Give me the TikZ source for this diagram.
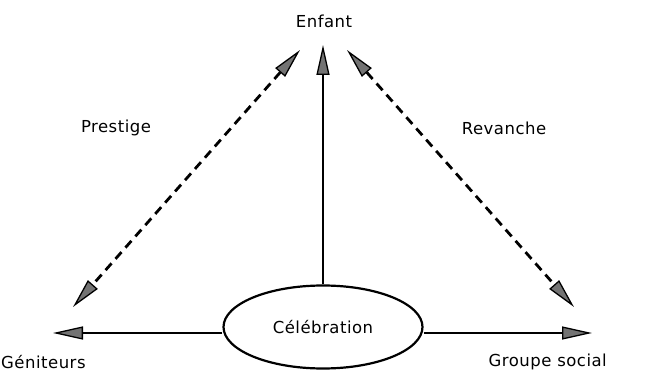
\documentclass[tikz,border=0pt]{standalone}
\usepackage{fontspec}
\setmainfont{DejaVu Sans}[LetterSpace=3]
\usetikzlibrary{arrows.meta,shapes.geometric}
\tikzset{
  lbl/.style={font=\fontsize{16.5}{18}\selectfont, inner sep=0pt},
  tip/.style={-{Triangle[length=30pt,width=13pt,fill=black!55,line width=1.3pt]}},
  dtip/.style={{Triangle[length=30pt,width=13pt,fill=black!55,line width=1.3pt]}-{Triangle[length=30pt,width=13pt,fill=black!55,line width=1.3pt]}},
  solidline/.style={line width=2pt, tip},
  dashline/.style={line width=2.8pt, dash pattern=on 9pt off 6pt, dtip},
  oval/.style={ellipse, draw, line width=2.2pt, minimum width=199pt, minimum height=83pt, inner sep=0pt, font=\fontsize{16.5}{18}\selectfont}
}
\begin{document}
\begin{tikzpicture}[x=1pt,y=-1pt]
\useasboundingbox (0,0) rectangle (660,371);
\node[lbl] (enf) at (324,21) {Enfant};
\node[lbl] (pre) at (116,128) {Prestige};
\node[lbl] (rev) at (504,128) {Revanche};
\node[lbl, anchor=west] (gen) at (1,362) {Géniteurs};
\node[lbl, anchor=east] (grp) at (607,362) {Groupe social};
\node[oval] (cel) at (323,327) {Célébration};
\coordinate (etip) at (323,45);
\coordinate (gtip) at (53,333);
\coordinate (stip) at (592,333);
\coordinate (ltop) at (300,50);
\coordinate (lbot) at (73,307);
\coordinate (rtop) at (347,50);
\coordinate (rbot) at (574,307);
\draw[solidline] (cel.north) -- (etip);
\draw[solidline] (cel.west |- gtip) -- (gtip);
\draw[solidline] (cel.east |- stip) -- (stip);
\draw[dashline] (ltop) -- (lbot);
\draw[dashline] (rtop) -- (rbot);
\end{tikzpicture}
\end{document}
